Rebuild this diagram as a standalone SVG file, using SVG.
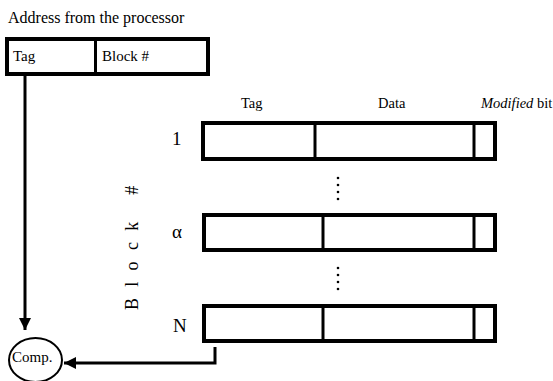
<svg xmlns="http://www.w3.org/2000/svg" width="553" height="381" viewBox="0 0 553 381">
  <style>
    text { font-family: "Liberation Serif", "Times New Roman", serif; font-size: 15px; fill: #000; }
    .head { font-size: 14.5px; }
    .idx { font-size: 19px; }
    .box { fill: #fff; stroke: #000; stroke-width: 4; }
    .div { stroke: #000; stroke-width: 3; }
    .wire { fill: none; stroke: #000; stroke-width: 3; }
    .dot { fill: #000; }
  </style>
  <defs>
    <marker id="arrow" viewBox="0 0 10 10" refX="10" refY="5" markerWidth="6.3" markerHeight="4" markerUnits="strokeWidth" orient="auto">
      <path d="M0,0 L10,5 L0,10 Z" fill="#000"/>
    </marker>
  </defs>
  <rect width="553" height="381" fill="#fff"/>

  <text x="8" y="23" style="font-size:16px">Address from the processor</text>

  <!-- address register: tag field + block number field -->
  <g id="address">
    <rect class="box" x="7" y="39" width="201" height="35"/>
    <line class="div" x1="95.5" y1="39" x2="95.5" y2="74"/>
    <text x="13" y="61">Tag</text>
    <text x="102" y="61">Block #</text>
  </g>

  <!-- column headers -->
  <text class="head" x="241" y="108">Tag</text>
  <text class="head" x="378" y="108">Data</text>
  <text class="head" x="481" y="108"><tspan font-style="italic">Modified</tspan> bit</text>

  <!-- vertical block-number axis label -->
  <text transform="translate(138,310) rotate(-90)" style="font-size:18px; letter-spacing:11.3px">Block #</text>

  <!-- cache lines -->
  <g id="line-1">
    <text class="idx" x="172" y="145">1</text>
    <rect class="box" x="203" y="123" width="292" height="36"/>
    <line class="div" x1="315" y1="123" x2="315" y2="159"/>
    <line class="div" x1="474" y1="123" x2="474" y2="159"/>
  </g>
  <g id="dots-1">
    <circle class="dot" cx="338" cy="178" r="1.3"/>
    <circle class="dot" cx="338" cy="185" r="1.3"/>
    <circle class="dot" cx="338" cy="192" r="1.3"/>
    <circle class="dot" cx="338" cy="199" r="1.3"/>
  </g>
  <g id="line-alpha">
    <text class="idx" x="172" y="238">α</text>
    <rect class="box" x="204" y="215" width="291" height="35"/>
    <line class="div" x1="323" y1="215" x2="323" y2="250"/>
    <line class="div" x1="474" y1="215" x2="474" y2="250"/>
  </g>
  <g id="dots-2">
    <circle class="dot" cx="338" cy="268" r="1.3"/>
    <circle class="dot" cx="338" cy="275" r="1.3"/>
    <circle class="dot" cx="338" cy="282" r="1.3"/>
    <circle class="dot" cx="338" cy="289" r="1.3"/>
  </g>
  <g id="line-N">
    <text class="idx" x="173" y="332">N</text>
    <rect class="box" x="204" y="306" width="291" height="35"/>
    <line class="div" x1="323" y1="306" x2="323" y2="341"/>
    <line class="div" x1="474" y1="306" x2="474" y2="341"/>
  </g>

  <!-- comparator -->
  <g id="comp">
    <ellipse cx="35.5" cy="360" rx="26.5" ry="22" fill="#fff" stroke="#000" stroke-width="2"/>
    <text x="12" y="362">Comp.</text>
  </g>

  <!-- connectors -->
  <g id="connectors">
    <line class="wire" x1="25" y1="75" x2="25" y2="330" marker-end="url(#arrow)"/>
    <polyline class="wire" points="215,347 215,363 64,363" marker-end="url(#arrow)"/>
  </g>
</svg>
